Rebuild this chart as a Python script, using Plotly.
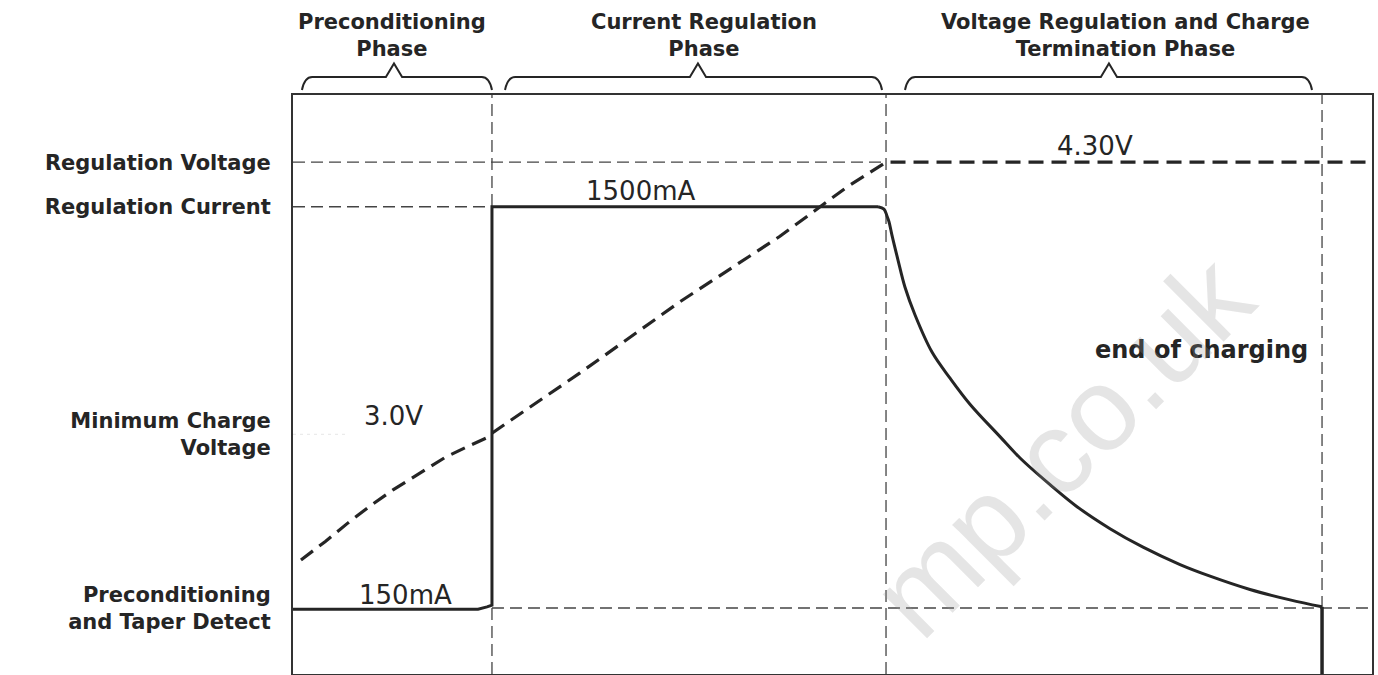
import plotly.graph_objects as go

# ---------------- data ----------------
phase_names = [
    "Preconditioning<br>Phase",
    "Current Regulation<br>Phase",
    "Voltage Regulation and Charge<br>Termination Phase",
]
# phase boundaries on the time axis (0..100)
phase_bounds = [0.0, 18.44, 54.96, 95.37, 100.0]

level_names = [
    "Regulation Voltage",
    "Regulation Current",
    "Minimum Charge<br>Voltage",
    "Preconditioning<br>and Taper Detect",
]
level_values = [88.4, 80.7, 41.4, 11.4]

# battery voltage (dashed curve)
voltage_t = [0.74, 3.0, 5.10, 7.2, 9.27, 11.8, 14.18, 16.2, 17.98, 18.44, 26.6, 35.87, 45.13, 51.34, 54.96, 100.0]
voltage_v = [19.7, 22.9, 26.1, 29.1, 31.8, 34.8, 37.5, 39.3, 40.8, 41.6, 52.0, 64.3, 75.6, 84.1, 88.4, 88.4]

# charge current: preconditioning + constant-current part
current_cc_t = [0.0, 17.15, 17.98, 18.44, 18.44, 54.22]
current_cc_i = [11.2, 11.2, 11.6, 11.9, 80.7, 80.7]
# charge current: taper part (constant-voltage phase)
current_cv_t = [54.22, 54.77, 55.05, 55.24, 55.51, 56.07, 56.72, 57.65, 59.22, 60.89,
                62.74, 65.52, 67.38, 70.16, 72.66, 75.72, 78.78, 82.21, 84.99, 88.69,
                92.40, 95.37]
current_cv_i = [80.7, 80.3, 79.1, 78.1, 75.8, 71.5, 66.8, 62.0, 55.6, 51.1,
                46.6, 41.0, 37.3, 32.7, 28.9, 25.1, 21.9, 18.9, 16.9, 14.6,
                12.8, 11.6]
# charge terminated
current_end_t = [95.37, 95.37]
current_end_i = [11.6, 0.0]

value_labels = ["3.0V", "150mA", "1500mA", "4.30V", "end of charging"]
value_label_t = [9.27, 10.4, 32.25, 74.3, 84.2]
value_label_y = [44.6, 13.6, 83.4, 91.2, 56.0]

# ---------------- styling ----------------
INK = "#252525"
REF = "#444444"
FONT = "DejaVu Sans"

fig = go.Figure()

def add_line(xs, ys, color=REF, width=1.3, dash="12px,6px", shape="linear"):
    fig.add_trace(go.Scatter(x=xs, y=ys, mode="lines", hoverinfo="skip",
                             line=dict(color=color, width=width, dash=dash, shape=shape),
                             showlegend=False))

t_pre, t_cc, t_end, t_max = phase_bounds[1], phase_bounds[2], phase_bounds[3], phase_bounds[4]
v_reg, i_reg, v_min, i_pre = level_values

# reference lines
add_line([0, t_cc], [v_reg, v_reg])
add_line([0, t_pre], [i_reg, i_reg])
add_line([t_pre, t_max], [i_pre, i_pre])
add_line([0, 5], [v_min, v_min], color="#e6e6e6", width=1, dash="3px,4px")
add_line([t_pre, t_pre], [0, 100])
add_line([t_cc, t_cc], [0, 100])
add_line([t_end, t_end], [i_pre, 100])

# voltage curve
add_line(voltage_t, voltage_v, color=INK, width=3.2, dash="15px,8px")
# current curve
add_line(current_cc_t, current_cc_i, color=INK, width=3, dash="solid")
add_line(current_cv_t, current_cv_i, color=INK, width=3, dash="solid", shape="spline")
add_line(current_end_t, current_end_i, color=INK, width=3.5, dash="solid")

# value labels
for txt, tx, ty in zip(value_labels, value_label_t, value_label_y):
    bold = txt == "end of charging"
    fig.add_annotation(x=tx, y=ty, text=txt, showarrow=False,
                       font=dict(family=FONT, size=24 if bold else 26, color=INK,
                                 weight="bold" if bold else "normal"),
                       xanchor="center", yanchor="middle")

# phase headers and braces
header_x = [9.18, 38.1, 77.2]
brace_ranges = [(0.83, 18.44), (19.65, 54.59), (56.72, 94.44)]
brace_peaks = [9.36, 37.53, 75.62]
y_end, y_flat, y_peak = 1.0086, 1.031, 1.0545
ramp = 0.95
peak_half = 0.75
for name, hx, (b0, b1), bp in zip(phase_names, header_x, brace_ranges, brace_peaks):
    fig.add_annotation(x=hx, y=1.102, xref="x", yref="paper", text=name, showarrow=False,
                       font=dict(family=FONT, size=21, color=INK, weight="bold"),
                       xanchor="center", yanchor="middle")
    path = (f"M {b0},{y_end} Q {b0 + ramp*0.25},{y_flat} {b0 + ramp},{y_flat} "
            f"L {bp - peak_half},{y_flat} L {bp},{y_peak} L {bp + peak_half},{y_flat} "
            f"L {b1 - ramp},{y_flat} Q {b1 - ramp*0.25},{y_flat} {b1},{y_end}")
    fig.add_shape(type="path", path=path, xref="x", yref="paper",
                  line=dict(color=INK, width=2))

# faint watermark
fig.add_annotation(x=71.3, y=39.5, text="mp.co.uk", showarrow=False, textangle=-45,
                   font=dict(family="Liberation Sans", size=118, color="rgba(150,150,150,0.25)"),
                   xanchor="center", yanchor="middle")

fig.update_layout(
    width=1378, height=675,
    margin=dict(l=293, r=6, t=95, b=1),
    paper_bgcolor="white", plot_bgcolor="white",
    showlegend=False,
    xaxis=dict(range=[0, 100], showgrid=False, zeroline=False, showticklabels=False,
               ticks="", showline=True, mirror=True, linecolor="#333", linewidth=2,
               fixedrange=True),
    yaxis=dict(range=[0, 100], showgrid=False, zeroline=False,
               tickvals=level_values, ticktext=level_names, ticks="",
               ticklabelstandoff=16,
               tickfont=dict(family=FONT, size=21, color=INK, weight="bold"),
               showline=True, mirror=True, linecolor="#333", linewidth=2,
               fixedrange=True),
)

fig.write_html("out.html",
               config={"displayModeBar": False},
               post_script="document.body.style.margin='0';document.body.style.overflow='hidden';")
